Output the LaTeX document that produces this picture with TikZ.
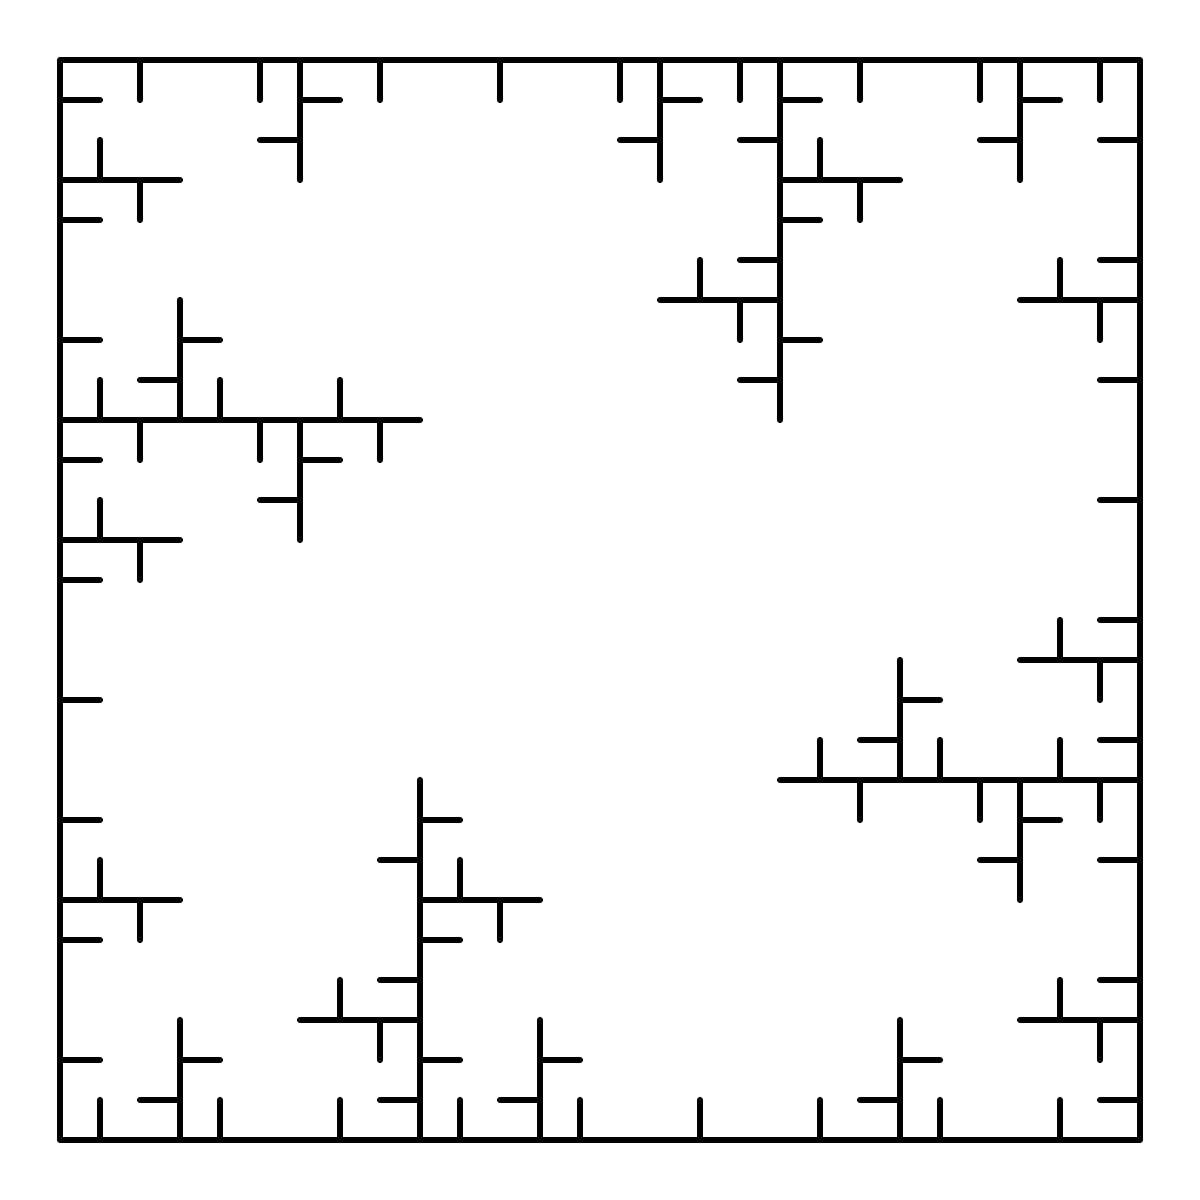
\documentclass[tikz,border=0pt]{standalone}
\usepackage{tikz}
\tikzset{
  wall/.style={line width=4.4pt,line cap=round,line join=round,black}
}
\begin{document}
\begin{tikzpicture}[x=1cm,y=-1cm]
  \useasboundingbox (-1.5,-1.5) rectangle (28.5,28.5);
  % Outer frame
  \draw[wall] (0,0) rectangle (27,27);
  % Vertical walls (x, y from, y to)
  \foreach \x/\ya/\yb in {2/0/1,5/0/1,6/0/3,8/0/1,11/0/1,14/0/1,15/0/3,17/0/1,18/0/9,
      20/0/1,23/0/1,24/0/3,26/0/1,1/2/3,2/3/4,19/2/3,20/3/4,16/5/6,17/6/7,25/5/6,26/6/7,
      3/6/9,1/8/9,4/8/9,7/8/9,2/9/10,5/9/10,6/9/12,8/9/10,1/11/12,2/12/13,
      25/14/15,26/15/16,21/15/18,19/17/18,22/17/18,25/17/18,20/18/19,23/18/19,24/18/21,26/18/19,
      9/18/27,10/20/21,11/21/22,1/20/21,2/21/22,7/23/24,8/24/25,25/23/24,26/24/25,
      3/24/27,1/26/27,4/26/27,7/26/27,10/26/27,12/24/27,13/26/27,16/26/27,19/26/27,
      21/24/27,22/26/27,25/26/27}
    \draw[wall] (\x,\ya) -- (\x,\yb);
  % Horizontal walls (y, x from, x to)
  \foreach \y/\xa/\xb in {1/0/1,1/6/7,2/5/6,3/0/3,4/0/1,1/15/16,2/14/15,1/18/19,2/17/18,
      3/18/21,4/18/19,1/24/25,2/23/24,2/26/27,5/17/18,6/15/18,7/18/19,8/17/18,5/26/27,
      6/24/27,8/26/27,7/0/1,7/3/4,8/2/3,9/0/9,10/0/1,10/6/7,11/5/6,12/0/3,13/0/1,
      11/26/27,14/26/27,15/24/27,16/0/1,16/21/22,17/20/21,17/26/27,18/18/27,19/24/25,
      20/23/24,20/26/27,19/0/1,19/9/10,20/8/9,21/9/12,22/9/10,21/0/3,22/0/1,23/8/9,
      24/6/9,25/9/10,26/8/9,23/26/27,24/24/27,26/26/27,25/0/1,25/3/4,26/2/3,
      25/12/13,26/11/12,25/21/22,26/20/21}
    \draw[wall] (\xa,\y) -- (\xb,\y);
\end{tikzpicture}
\end{document}
